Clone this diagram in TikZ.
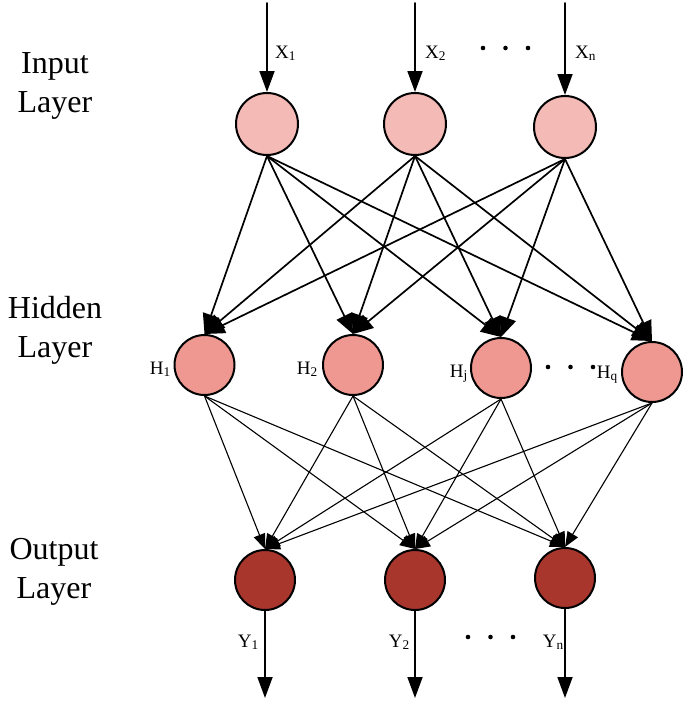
\documentclass[tikz,border=0pt]{standalone}
\usepackage{fontspec}
\setmainfont{Liberation Serif}
\usetikzlibrary{arrows.meta}

\definecolor{inpink}{RGB}{244,186,182}
\definecolor{hidpink}{RGB}{238,152,145}
\definecolor{outred}{RGB}{168,54,44}

\tikzset{
  neuron/.style={circle, draw=black, line width=2pt, minimum size=60pt, inner sep=0pt},
  inneuron/.style={neuron, fill=inpink, minimum size=62pt},
  hidneuron/.style={neuron, fill=hidpink},
  outneuron/.style={neuron, fill=outred},
  bigarrow/.style={line width=1.8pt, -{Triangle[length=21pt,width=15pt]}},
  wideedge/.style={line width=1.7pt, -{Triangle[length=20pt,width=17pt]}},
  thinedge/.style={line width=1.1pt, -{Triangle[length=15pt,width=12pt]}},
  layertext/.style={align=center, inner sep=0pt, font=\fontsize{32}{39}\selectfont},
  sublabel/.style={inner sep=0pt, font=\fontsize{19}{22}\selectfont},
}

\begin{document}
\begin{tikzpicture}[x=1pt, y=-1pt, line cap=round, line join=round]

  %% ════ layer names ════
  \node[layertext, anchor=base] (inname)  at (55,112) {Input\\Layer};
  \node[layertext, anchor=base] (hidname) at (55,357) {Hidden\\Layer};
  \node[layertext, anchor=base] (outname) at (54,598) {Output\\Layer};

  %% ════ neurons ════
  \node[inneuron] (x1) at (267,124) {};
  \node[inneuron] (x2) at (415,124) {};
  \node[inneuron] (x3) at (565,127) {};

  \node[hidneuron] (h1) at (204.5,365) {};
  \node[hidneuron] (h2) at (353,365) {};
  \node[hidneuron] (h3) at (501,368) {};
  \node[hidneuron] (h4) at (652,372) {};

  \node[outneuron] (y1) at (265,580) {};
  \node[outneuron] (y2) at (415,580) {};
  \node[outneuron] (y3) at (565,578) {};

  %% ════ free ends of the input / output arrows ════
  \coordinate (x1top) at (267,3);
  \coordinate (x2top) at (415,3);
  \coordinate (x3top) at (565,3);
  \coordinate (y1end) at (265,698);
  \coordinate (y2end) at (415,698);
  \coordinate (y3end) at (565,698);

  \draw[bigarrow] (x1top) -- (x1);
  \draw[bigarrow] (x2top) -- (x2);
  \draw[bigarrow] (x3top) -- (x3);
  \draw[bigarrow] (y1) -- (y1end);
  \draw[bigarrow] (y2) -- (y2end);
  \draw[bigarrow] (y3) -- (y3end);

  %% ════ connections ════
  \foreach \i in {x1,x2,x3}
    \foreach \h in {h1,h2,h3,h4}
      \draw[wideedge] (\i.south) -- (\h.north);
  \foreach \h in {h1,h2,h3,h4}
    \foreach \o in {y1,y2,y3}
      \draw[thinedge] (\h.south) -- (\o.north);

  %% ════ labels ════
  \node[sublabel, anchor=base west] (lx1) at (275,58) {X\textsubscript{1}};
  \node[sublabel, anchor=base west] (lx2) at (425,58) {X\textsubscript{2}};
  \node[sublabel, anchor=base west] (lx3) at (575,58) {X\textsubscript{n}};

  \node[sublabel, anchor=base east] (lh1) at (171,374) {H\textsubscript{1}};
  \node[sublabel, anchor=base east] (lh2) at (318,374) {H\textsubscript{2}};
  \node[sublabel, anchor=base east] (lh3) at (468,377) {H\textsubscript{j}};
  \node[sublabel, anchor=base east] (lh4) at (618,378) {H\textsubscript{q}};

  \node[sublabel, anchor=base east] (ly1) at (259,647) {Y\textsubscript{1}};
  \node[sublabel, anchor=base east] (ly2) at (410,647) {Y\textsubscript{2}};
  \node[sublabel, anchor=base east] (ly3) at (564,647) {Y\textsubscript{n}};

  %% ════ ellipsis dots ════
  \foreach \dx in {483,505.5,528}
    \fill (\dx,48) circle (2.3);
  \foreach \dx in {548,570.5,593}
    \fill (\dx,367) circle (2.3);
  \foreach \dx in {468,490.5,513}
    \fill (\dx,637) circle (2.3);

  \pgfresetboundingbox
  \path[use as bounding box] (0,0) rectangle (693,705);
\end{tikzpicture}
\end{document}
